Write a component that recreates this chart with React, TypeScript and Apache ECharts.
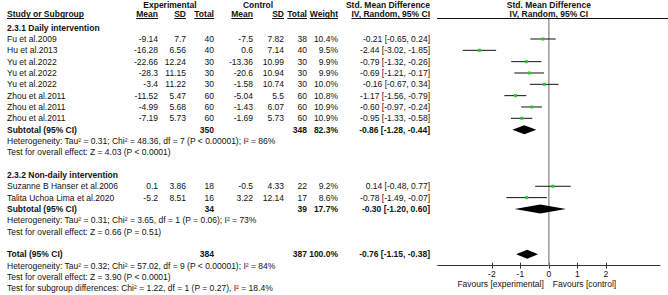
import React, { useEffect, useRef } from 'react';
import * as echarts from 'echarts';

// ---------- data ----------
const groupLabels = ['2.3.1 Daily intervention', '2.3.2 Non-daily intervention'];
const studyNames = [
  'Fu et al.2009', 'Hu et al.2013', 'Yu et al.2022', 'Yu et al.2022', 'Yu et al.2022',
  'Zhou et al.2011', 'Zhou et al.2011', 'Zhou et al.2011',
  'Suzanne B Hanser et al.2006', 'Talita Uchoa Lima et al.2020',
];
const studyGroup = [0, 0, 0, 0, 0, 0, 0, 0, 1, 1];
const expMean = [-9.14, -16.28, -22.66, -28.3, -3.4, -11.52, -4.99, -7.19, 0.1, -5.2];
const expSD = [7.7, 6.56, 12.24, 11.15, 11.22, 5.47, 5.68, 5.73, 3.86, 8.51];
const expTotal = [40, 40, 30, 30, 30, 60, 60, 60, 18, 16];
const ctrlMean = [-7.5, 0.6, -13.36, -20.6, -1.58, -5.04, -1.43, -1.69, -0.5, 3.22];
const ctrlSD = [7.82, 7.14, 10.99, 10.94, 10.74, 5.5, 6.07, 5.73, 4.33, 12.14];
const ctrlTotal = [38, 40, 30, 30, 30, 60, 60, 60, 22, 17];
const weights = [10.4, 9.5, 9.9, 9.9, 10.0, 10.8, 10.9, 10.9, 9.2, 8.6];
const smd = [-0.21, -2.44, -0.79, -0.69, -0.16, -1.17, -0.6, -0.95, 0.14, -0.78];
const ciLow = [-0.65, -3.02, -1.32, -1.21, -0.67, -1.56, -0.97, -1.33, -0.48, -1.49];
const ciHigh = [0.24, -1.85, -0.26, -0.17, 0.34, -0.79, -0.24, -0.58, 0.77, -0.07];

const subExpN = [350, 34];
const subCtrlN = [348, 39];
const subWeight = [82.3, 17.7];
const subSmd = [-0.86, -0.3];
const subLow = [-1.28, -1.2];
const subHigh = [-0.44, 0.6];
const groupHet = [
  'Heterogeneity: Tau² = 0.31; Chi² = 48.36, df = 7 (P < 0.00001); I² = 86%',
  'Heterogeneity: Tau² = 0.31; Chi² = 3.65, df = 1 (P = 0.06); I² = 73%',
];
const groupTest = [
  'Test for overall effect: Z = 4.03 (P < 0.0001)',
  'Test for overall effect: Z = 0.66 (P = 0.51)',
];

const totalExpN = 384;
const totalCtrlN = 387;
const totalWeight = 100.0;
const totalSmd = -0.76;
const totalLow = -1.15;
const totalHigh = -0.38;
const totalHet = 'Heterogeneity: Tau² = 0.32; Chi² = 57.02, df = 9 (P < 0.00001); I² = 84%';
const totalTest = 'Test for overall effect: Z = 3.90 (P < 0.0001)';
const subgroupTest = 'Test for subgroup differences: Chi² = 1.22, df = 1 (P = 0.27), I² = 18.4%';

const xTicks = [-2, -1, 0, 1, 2];
const favoursLabels = ['Favours [experimental]', 'Favours [control]'];
const headerTop = ['Experimental', 'Control', 'Std. Mean Difference', 'Std. Mean Difference'];
const headerCols = ['Study or Subgroup', 'Mean', 'SD', 'Total', 'Mean', 'SD', 'Total', 'Weight', 'IV, Random, 95% CI', 'IV, Random, 95% CI'];

// ---------- layout ----------
const FONT_FAMILY = '"Liberation Sans", Arial, sans-serif';
const FS = 8.5;
const TXT = '#111';
const Y_TOP = 0.235;
const Y_BOTTOM = 22.01;
const X_MIN = -3.9;
const X_MAX = 3.9;
// right edges of numeric columns
const COLX = { name: 7, eMean: 158, eSD: 186, eN: 214, cMean: 253, cSD: 284, cN: 307, w: 338, ci: 430 };

const fmtCI = (m: number, lo: number, hi: number) => `${m.toFixed(2)} [${lo.toFixed(2)}, ${hi.toFixed(2)}]`;

export default function App() {
  const ref = useRef<HTMLDivElement>(null);
  useEffect(() => {
    document.body.style.margin = '0';
    const chart = echarts.init(ref.current!, null, { renderer: 'svg' });

    // build row structure
    type Row = { kind: string; idx: number; r: number };
    const rows: Row[] = [];
    let r = 1;
    for (let g = 0; g < groupLabels.length; g++) {
      rows.push({ kind: 'group', idx: g, r: r++ });
      studyNames.forEach((_, i) => {
        if (studyGroup[i] === g) rows.push({ kind: 'study', idx: i, r: r++ });
      });
      rows.push({ kind: 'subtotal', idx: g, r: r++ });
      rows.push({ kind: 'het', idx: g, r: r++ });
      rows.push({ kind: 'test', idx: g, r: r++ });
      r++;
    }
    const totalRow = r;
    rows.push({ kind: 'total', idx: 0, r: r++ });
    rows.push({ kind: 'totalHet', idx: 0, r: r++ });
    rows.push({ kind: 'totalTest', idx: 0, r: r++ });
    rows.push({ kind: 'subgroupTest', idx: 0, r: r++ });

    const studyData = rows.filter((x) => x.kind === 'study').map((x) => [smd[x.idx], ciLow[x.idx], ciHigh[x.idx], x.r]);
    const diamondData = rows
      .filter((x) => x.kind === 'subtotal')
      .map((x) => [subSmd[x.idx], subLow[x.idx], subHigh[x.idx], x.r]);
    diamondData.push([totalSmd, totalLow, totalHigh, totalRow]);

    const option: any = {
      animation: false,
      grid: { left: 437.7, right: 8, top: 19, bottom: 29.3, containLabel: false },
      xAxis: [
        {
          type: 'value', min: X_MIN, max: X_MAX,
          axisLine: { show: true, lineStyle: { color: '#333', width: 1 } },
          axisTick: { show: true, length: 3, customValues: xTicks, lineStyle: { color: '#333' } },
          axisLabel: {
            show: true, customValues: xTicks, fontSize: FS, color: TXT, fontFamily: FONT_FAMILY, margin: 4,
            formatter: (v: number) => String(v),
          },
          splitLine: { show: false },
        },
        {
          type: 'value', min: X_MIN, max: X_MAX, position: 'bottom',
          axisLine: { show: false },
          axisTick: { show: true, inside: true, length: 3, customValues: xTicks, lineStyle: { color: '#333' } },
          axisLabel: { show: false },
          splitLine: { show: false },
        },
      ],
      yAxis: { type: 'value', min: Y_TOP, max: Y_BOTTOM, inverse: true, show: false },
      series: [
        {
          type: 'line', data: [[0, Y_TOP], [0, Y_BOTTOM]], symbol: 'none', silent: true, z: 1,
          lineStyle: { color: '#9a9a9a', width: 1.5 },
        },
        {
          type: 'custom', data: studyData, z: 3, clip: false,
          encode: { x: [0, 1, 2], y: 3 },
          renderItem: (_p: any, api: any) => {
            const m = api.value(0), lo = api.value(1), hi = api.value(2), rr = api.value(3);
            const a = api.coord([lo, rr]);
            const b = api.coord([hi, rr]);
            const c = api.coord([m, rr]);
            return {
              type: 'group',
              children: [
                { type: 'line', shape: { x1: a[0], y1: a[1], x2: b[0], y2: b[1] }, style: { stroke: '#111', lineWidth: 1 } },
                { type: 'rect', shape: { x: c[0] - 1.5, y: c[1] - 1.5, width: 3, height: 3 }, style: { fill: '#22cc22' } },
              ],
            };
          },
        },
        {
          type: 'custom', data: diamondData, z: 3, clip: false,
          encode: { x: [0, 1, 2], y: 3 },
          renderItem: (_p: any, api: any) => {
            const m = api.value(0), lo = api.value(1), hi = api.value(2), rr = api.value(3);
            const a = api.coord([lo, rr]);
            const b = api.coord([hi, rr]);
            const c = api.coord([m, rr]);
            return {
              type: 'polygon',
              shape: { points: [[a[0], a[1]], [c[0], c[1] - 4.5], [b[0], b[1]], [c[0], c[1] + 4.5]] },
              style: { fill: '#000' },
            };
          },
        },
      ],
    };
    chart.setOption(option);

    const yPix = (v: number) => chart.convertToPixel({ yAxisIndex: 0 }, v) as unknown as number;
    const xPix = (v: number) => chart.convertToPixel({ xAxisIndex: 0 }, v) as unknown as number;

    const ctx = document.createElement('canvas').getContext('2d')!;
    const measure = (s: string, bold: boolean) => {
      ctx.font = `${bold ? 'bold ' : ''}${FS}px ${FONT_FAMILY}`;
      return ctx.measureText(s).width;
    };

    const g: any[] = [];
    const txt = (x: number, y: number, s: string, align = 'left', bold = false) => {
      g.push({
        type: 'text', silent: true,
        style: {
          text: s, x, y, fill: TXT,
          font: `${bold ? 'bold ' : ''}${FS}px ${FONT_FAMILY}`,
          textAlign: align, textVerticalAlign: 'middle', align, verticalAlign: 'middle',
        },
      });
    };
    const uline = (x1: number, x2: number, y: number) => {
      g.push({ type: 'line', silent: true, shape: { x1, y1: y, x2, y2: y }, style: { stroke: '#111', lineWidth: 1 } });
    };

    // header
    const zeroX = xPix(0);
    txt(170, 4.5, headerTop[0], 'center', true);
    txt(258, 4.5, headerTop[1], 'center', true);
    txt(388, 4.5, headerTop[2], 'center', true);
    txt(zeroX, 4.5, headerTop[3], 'center', true);
    const hy = 14.2;
    const ulY = 18.5;
    const rightCols = [COLX.eMean, COLX.eSD, COLX.eN, COLX.cMean, COLX.cSD, COLX.cN, COLX.w, COLX.ci];
    txt(COLX.name, hy, headerCols[0], 'left', true);
    uline(COLX.name, COLX.name + measure(headerCols[0], true), ulY);
    rightCols.forEach((x, i) => {
      const s = headerCols[i + 1];
      txt(x, hy, s, 'right', true);
      uline(x - measure(s, true), x, ulY);
    });
    txt(zeroX, hy, headerCols[9], 'center', true);
    uline(437, 668, ulY);

    rows.forEach((row) => {
      const y = yPix(row.r);
      const i = row.idx;
      switch (row.kind) {
        case 'group':
          txt(COLX.name, y, groupLabels[i], 'left', true);
          break;
        case 'study':
          txt(COLX.name, y, studyNames[i]);
          txt(COLX.eMean, y, String(expMean[i]), 'right');
          txt(COLX.eSD, y, String(expSD[i]), 'right');
          txt(COLX.eN, y, String(expTotal[i]), 'right');
          txt(COLX.cMean, y, String(ctrlMean[i]), 'right');
          txt(COLX.cSD, y, String(ctrlSD[i]), 'right');
          txt(COLX.cN, y, String(ctrlTotal[i]), 'right');
          txt(COLX.w, y, `${weights[i].toFixed(1)}%`, 'right');
          txt(COLX.ci, y, fmtCI(smd[i], ciLow[i], ciHigh[i]), 'right');
          break;
        case 'subtotal':
          txt(COLX.name, y, 'Subtotal (95% CI)', 'left', true);
          txt(COLX.eN, y, String(subExpN[i]), 'right', true);
          txt(COLX.cN, y, String(subCtrlN[i]), 'right', true);
          txt(COLX.w, y, `${subWeight[i].toFixed(1)}%`, 'right', true);
          txt(COLX.ci, y, fmtCI(subSmd[i], subLow[i], subHigh[i]), 'right', true);
          break;
        case 'het':
          txt(COLX.name, y, groupHet[i]);
          break;
        case 'test':
          txt(COLX.name, y, groupTest[i]);
          break;
        case 'total':
          txt(COLX.name, y, 'Total (95% CI)', 'left', true);
          txt(COLX.eN, y, String(totalExpN), 'right', true);
          txt(COLX.cN, y, String(totalCtrlN), 'right', true);
          txt(COLX.w, y, `${totalWeight.toFixed(1)}%`, 'right', true);
          txt(COLX.ci, y, fmtCI(totalSmd, totalLow, totalHigh), 'right', true);
          break;
        case 'totalHet':
          txt(COLX.name, y, totalHet);
          break;
        case 'totalTest':
          txt(COLX.name, y, totalTest);
          break;
        case 'subgroupTest':
          txt(COLX.name, y, subgroupTest);
          break;
      }
    });

    // favours labels
    txt(zeroX - 5, 283.7, favoursLabels[0], 'right');
    txt(zeroX + 4, 283.7, favoursLabels[1], 'left');

    chart.setOption({ graphic: g });
    return () => chart.dispose();
  }, []);
  return <div ref={ref} style={{ width: 668, height: 295 }} />;
}
